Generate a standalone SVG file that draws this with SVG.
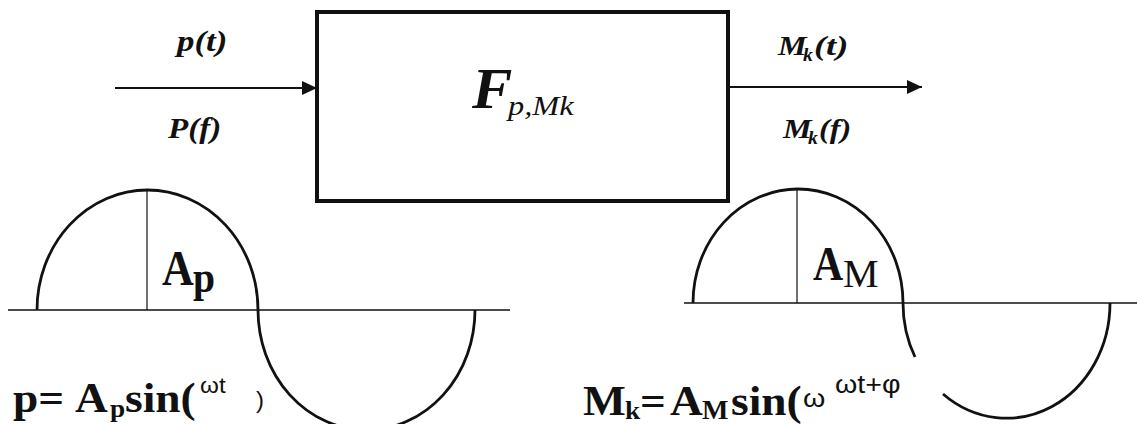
<svg xmlns="http://www.w3.org/2000/svg" width="1137" height="424" viewBox="0 0 1137 424">
  <style>
    .bi { font-family: "Liberation Serif", "Times New Roman", serif; font-weight: bold; font-style: italic; fill: #111; }
    .it { font-family: "Liberation Serif", "Times New Roman", serif; font-style: italic; fill: #111; }
    .b { font-family: "Liberation Serif", "Times New Roman", serif; font-weight: bold; fill: #111; }
    .r { font-family: "Liberation Serif", "Times New Roman", serif; fill: #111; }
    .s { font-family: "Liberation Sans", Arial, sans-serif; fill: #111; }
    .box { fill: #fff; stroke: #111; stroke-width: 4; }
    .wire { fill: none; stroke: #111; stroke-width: 1.8; }
    .axis { fill: none; stroke: #111; stroke-width: 1.6; }
    .amp { fill: none; stroke: #111; stroke-width: 1.2; }
    .wave { fill: none; stroke: #111; stroke-width: 2.8; }
  </style>
  <defs>
    <marker id="ah" markerUnits="userSpaceOnUse" markerWidth="16" markerHeight="14" refX="15" refY="7" orient="auto">
      <path d="M0,0 L15,7 L0,14 z" fill="#111"/>
    </marker>
  </defs>
  <rect width="1137" height="424" fill="#fff"/>

  <g id="connectors">
    <line class="wire" x1="115" y1="88" x2="317" y2="88" marker-end="url(#ah)"/>
    <line class="wire" x1="728" y1="87" x2="922" y2="87" marker-end="url(#ah)"/>
  </g>

  <g id="label-input">
    <text class="bi" font-size="29" transform="translate(177,51) scale(1.2,1)">p(t)</text>
    <text class="bi" font-size="29" transform="translate(168,138) scale(1.14,1)">P(f)</text>
  </g>

  <g id="node-F">
    <rect class="box" x="317" y="12" width="411" height="189"/>
    <text class="bi" font-size="56" transform="translate(472,108) scale(1.08,1)">F</text>
    <text class="it" font-size="27" transform="translate(508,115) scale(1.2,1)">p,Mk</text>
  </g>

  <g id="label-output">
    <text class="bi" font-size="28" transform="translate(778,55) scale(1.15,1)">M</text>
    <text class="bi" font-size="18" transform="translate(803,61) scale(1.1,1)">k</text>
    <text class="bi" font-size="28" transform="translate(814,55) scale(1.3,1)">(t)</text>
    <text class="bi" font-size="28" transform="translate(783,138) scale(1.15,1)">M</text>
    <text class="bi" font-size="18" transform="translate(808,144) scale(1.1,1)">k</text>
    <text class="bi" font-size="28" transform="translate(819,138) scale(1.15,1)">(f)</text>
  </g>

  <g id="wave-input">
    <line class="axis" x1="8" y1="310" x2="510" y2="310"/>
    <line class="amp" x1="147" y1="190" x2="147" y2="310"/>
    <path class="wave" d="M37,310 A110.5,120 0 0 1 258,310"/>
    <path class="wave" d="M258,310 A108.5,120 0 0 0 475,310"/>
    <text class="b" font-size="50" transform="translate(162,285) scale(0.88,1)">A</text>
    <text class="b" font-size="44" transform="translate(193,292) scale(0.9,1)">p</text>
  </g>

  <g id="wave-output">
    <line class="axis" x1="684" y1="303" x2="1137" y2="303"/>
    <line class="amp" x1="797" y1="189" x2="797" y2="303"/>
    <path class="wave" d="M693,303 A105,114 0 0 1 903,303"/>
    <path class="wave" d="M903,303 A103.5,115 0 0 0 915,357"/>
    <path class="wave" d="M943,394 A103.5,115 0 0 0 1110,303"/>
    <text class="b" font-size="48" transform="translate(813,280) scale(0.87,1)">A</text>
    <text class="r" font-size="40" transform="translate(843,287)">M</text>
  </g>

  <g id="formula-input">
    <text class="b" font-size="42" transform="translate(13,412) scale(1.08,1)">p=</text>
    <text class="b" font-size="42" transform="translate(75,412) scale(1.08,1)">A</text>
    <text class="b" font-size="26" transform="translate(110,417) scale(1.05,1)">p</text>
    <text class="b" font-size="42" transform="translate(125,412) scale(1.08,1)">sin(</text>
    <text class="s" font-size="22" transform="translate(200,393) scale(1.1,1)">ωt</text>
    <text class="s" font-size="24" transform="translate(256,408)">)</text>
  </g>

  <g id="formula-output">
    <text class="b" font-size="42" transform="translate(583,415) scale(1.08,1)">M</text>
    <text class="b" font-size="26" transform="translate(625,419) scale(1.05,1)">k</text>
    <text class="b" font-size="42" transform="translate(640,415) scale(1.08,1)">=</text>
    <text class="b" font-size="42" transform="translate(670,415) scale(1.08,1)">A</text>
    <text class="b" font-size="28" transform="translate(702,419)">M</text>
    <text class="b" font-size="42" transform="translate(731,415) scale(1.08,1)">sin(</text>
    <text class="s" font-size="26" transform="translate(803,407) scale(1.1,1)">ω</text>
    <text class="s" font-size="26" transform="translate(835,393) scale(1.1,1)">ωt+φ</text>
  </g>
</svg>
